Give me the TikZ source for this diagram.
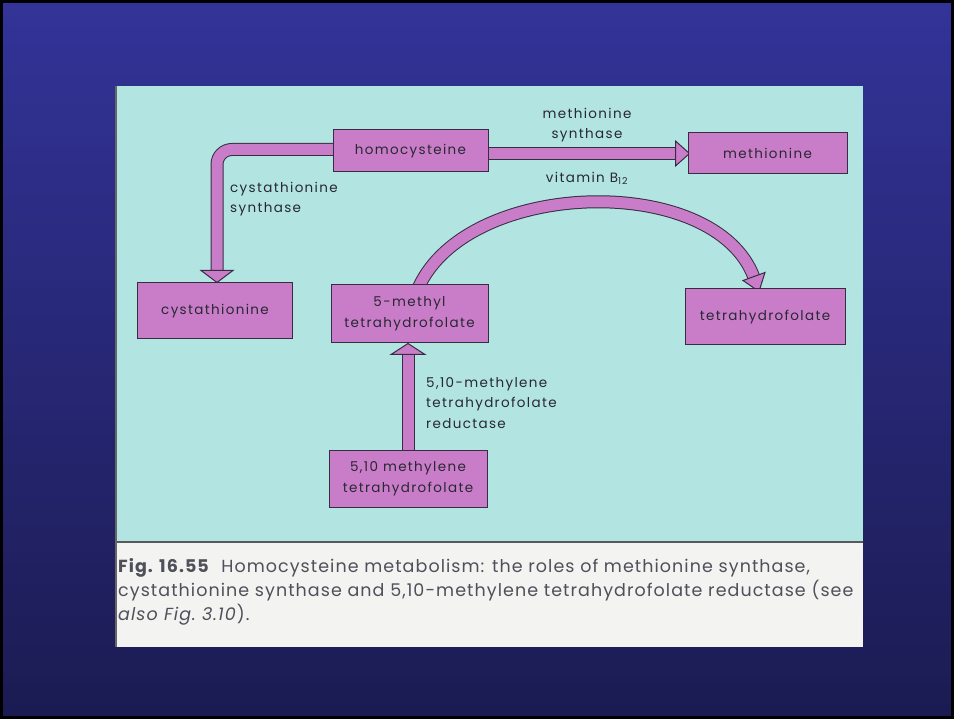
\documentclass[tikz,border=0pt]{standalone}
\usepackage{fontspec}
\setmainfont{Poppins}
\newfontfamily\diafont{Poppins}[LetterSpace=10]
\newfontfamily\capfont{Poppins}[LetterSpace=6]
\usetikzlibrary{calc}
\pgfdeclarelayer{bg}
\pgfdeclarelayer{mid}
\pgfsetlayers{bg,mid,main}
\definecolor{slideblue}{RGB}{51,51,153}
\definecolor{slidedark}{RGB}{27,27,82}
\definecolor{paper}{RGB}{178,228,226}
\definecolor{pinkbox}{RGB}{201,125,201}
\definecolor{edge}{RGB}{55,45,65}
\definecolor{ink}{RGB}{40,40,50}
\definecolor{capink}{RGB}{80,80,90}
\definecolor{capwhite}{RGB}{243,243,241}
\begin{document}
\begin{tikzpicture}[x=1pt,y=-1pt,
  box/.style={draw=edge, line width=1pt, fill=pinkbox, inner sep=0pt, align=center,
    text=ink, font=\diafont\fontsize{13.5}{21}\selectfont},
  pipe/.style={draw=edge, line width=1pt, double=pinkbox, double distance=11pt},
  head/.style={draw=edge, line width=1pt, fill=pinkbox, line join=miter},
  lbl/.style={text=ink, inner sep=0pt, font=\diafont\fontsize{13.5}{20.5}\selectfont},
  captext/.style={text=capink, inner sep=0pt, anchor=base west, font=\capfont\fontsize{17.5}{24}\selectfont}]
\useasboundingbox (0,0) rectangle (954,719);
\begin{pgfonlayer}{bg}
  \shade[top color=slideblue, bottom color=slidedark] (0,0) rectangle (954,719);
  \draw[black, line width=3pt] (1.5,1.5) rectangle (952.5,717.5);
  \fill[paper] (115,86) rectangle (863,543);
  \fill[capwhite] (115,543) rectangle (863,647);
  \draw[gray!70!black, line width=2pt] (115,542) -- (863,542);
  \draw[gray!80!black, line width=2pt] (116,86) -- (116,647);
\end{pgfonlayer}

% boxes
\node[box, minimum width=155pt, minimum height=42pt] (hcy) at (410.5,151) {homocysteine};
\node[box, minimum width=159pt, minimum height=41pt] (met) at (767.5,153.5) {methionine};
\node[box, minimum width=155pt, minimum height=56pt] (cys) at (215,311) {cystathionine};
\node[box, minimum width=157pt, minimum height=58pt] (m5) at (409.5,314) {5-methyl\\tetrahydrofolate};
\node[box, minimum width=160pt, minimum height=56pt] (thf) at (765,317) {tetrahydrofolate};
\node[box, minimum width=158pt, minimum height=56pt] (m510) at (408,479) {5,10 methylene\\tetrahydrofolate};

% labels
\node[lbl, align=center] (lms) at (587,125) {methionine\\synthase};
\node[lbl] (lb12) at (587,178) {vitamin B\textsubscript{12}};
\node[lbl, align=left, anchor=west] (lcs) at (230,199) {cystathionine\\synthase};
\node[lbl, align=left, anchor=west] (lmr) at (426,403) {5,10-methylene\\tetrahydrofolate\\reductase};

% connectors
\begin{pgfonlayer}{mid}
  % homocysteine -> methionine
  \draw[pipe] ($(hcy.east)+(-2,2.5)$) -- ($(met.west)+(-10,0)$);
  \filldraw[head] ($(met.west)+(2,0)$) -- ++(-14,-12.5) -- ++(0,25) -- cycle;
  % homocysteine -> cystathionine
  \draw[pipe, rounded corners=15pt] ($(hcy.west)+(2,-1.5)$) -| ($(cys.north)+(2,-9)$);
  \filldraw[head] ($(cys.north)+(2,0)$) -- ++(-16,-12) -- ++(32,0) -- cycle;
  % 5,10 methylene -> 5-methyl
  \draw[pipe] ($(m510.north)+(0,2)$) -- ($(m5.south -| m510.north)+(0,9)$);
  \filldraw[head] (m5.south -| m510.north) -- ++(-17,11) -- ++(34,0) -- cycle;
  % 5-methyl -> tetrahydrofolate (arc)
  \draw[pipe] ($(m5.north)+(9,3)$) .. controls (468,178) and (715,172) .. ($(thf.north)+(-11,-11)$);
  \filldraw[head] ($(thf.north)+(-6,3)$) -- ++(-16,-11) -- ++(22,-8) -- cycle;
\end{pgfonlayer}

% caption
\node[captext] (c1) at (118,572) {\textbf{Fig. 16.55}\ \ Homocysteine metabolism: the roles of methionine synthase,};
\node[captext] (c2) at (118,596) {cystathionine synthase and 5,10-methylene tetrahydrofolate reductase (see};
\node[captext] (c3) at (118,620) {\textit{also Fig.\ 3.10}).};
\end{tikzpicture}
\end{document}
